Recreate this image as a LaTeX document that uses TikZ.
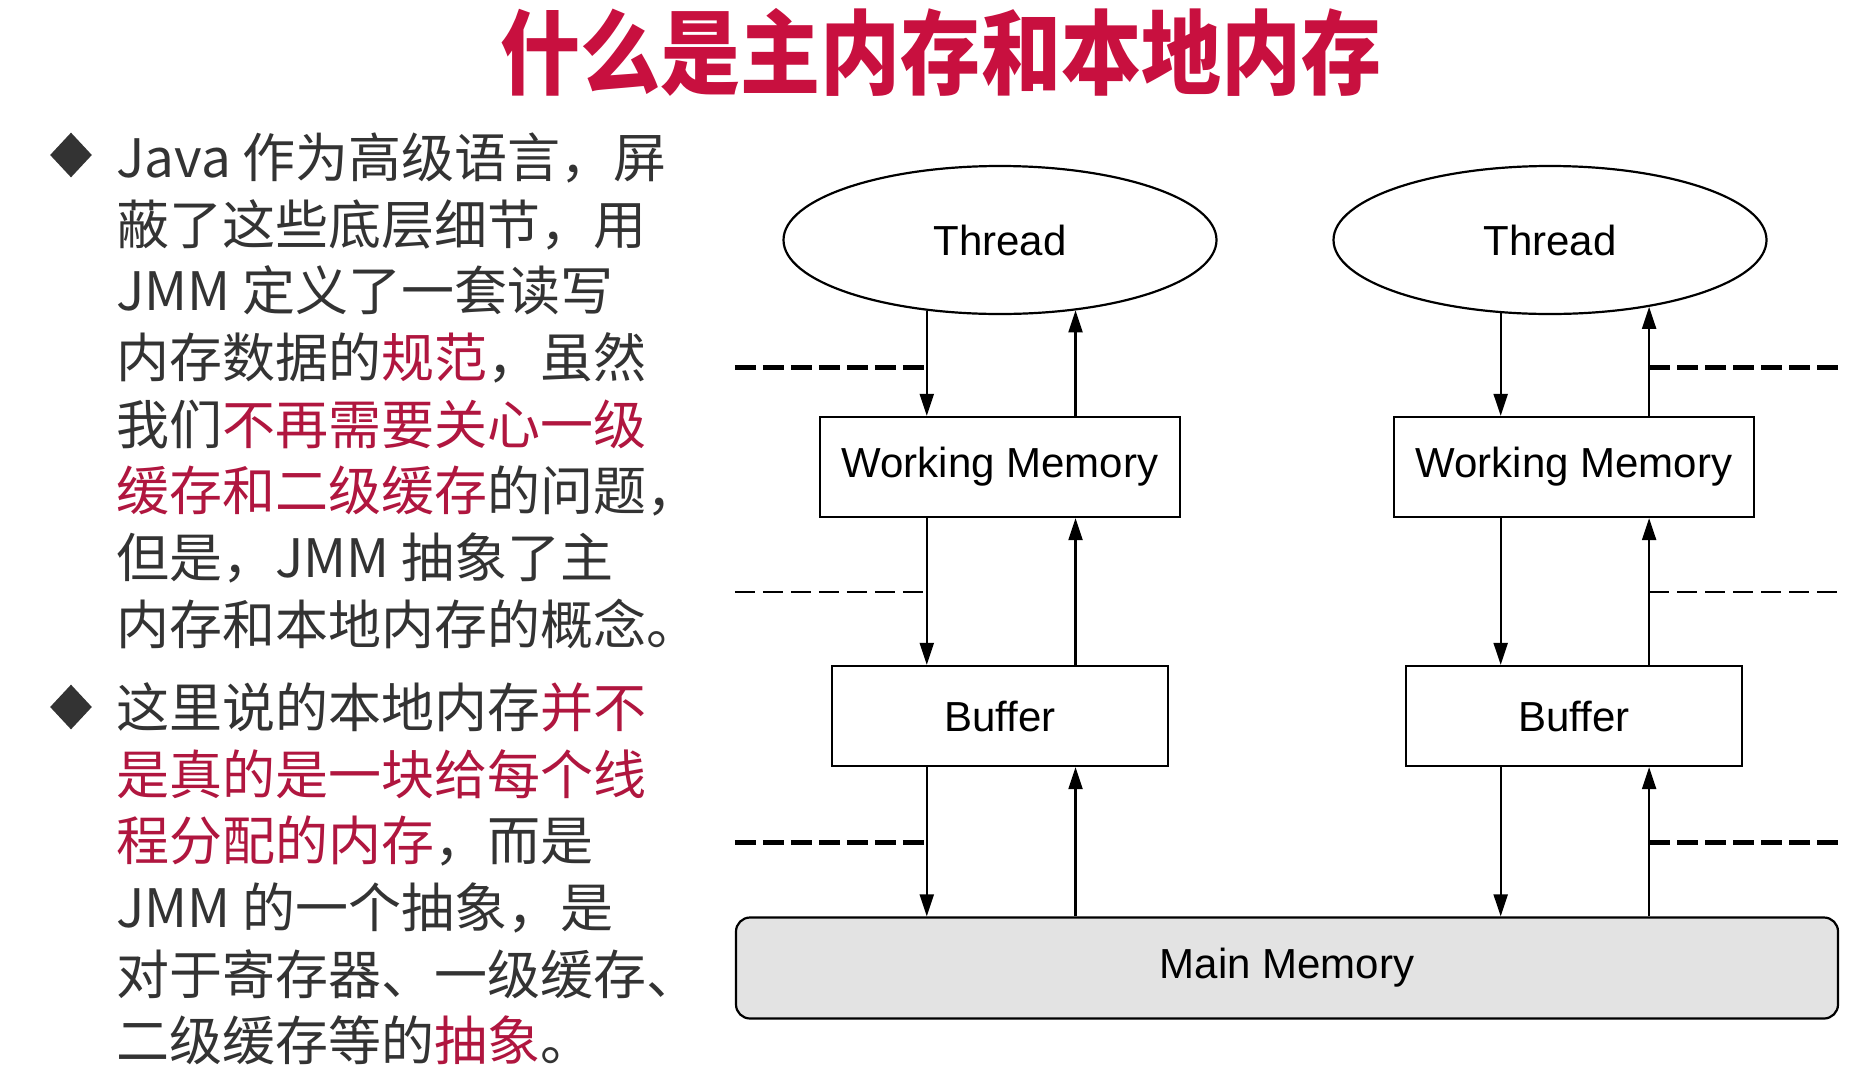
\documentclass[tikz,border=0pt]{standalone}
\usepackage{fontspec}
\usetikzlibrary{shapes.geometric,arrows.meta}
\newfontfamily\cjk{Noto Sans CJK SC}
\newfontfamily\dgm{Liberation Sans}
\definecolor{ink}{HTML}{333333}
\definecolor{rose}{HTML}{B0163F}
\definecolor{crimson}{HTML}{C8103F}
\definecolor{mem}{HTML}{E3E3E3}

\begin{document}
\begin{tikzpicture}[x=0.5pt, y=-0.5pt,
          ln/.style={anchor=base west, inner sep=0pt, text=ink, font=\cjk\fontsize{26.5}{33}\selectfont},
          dot/.style={diamond, fill=ink, inner sep=0pt, minimum width=21pt, minimum height=22.5pt},
          blk/.style={draw, line width=1.1pt, font=\dgm\fontsize{21}{25}\selectfont, inner sep=0pt, minimum height=50pt},
          thr/.style={blk, ellipse, minimum width=216.5pt, minimum height=74pt},
          ar/.style={line width=1.1pt, -{Triangle[length=11pt,width=7pt]}},
          thk/.style={line width=2.5pt, dash pattern=on 10.5pt off 3.5pt},
          thn/.style={line width=1.3pt, dash pattern=on 10pt off 4pt}]
        \path[use as bounding box, fill=white] (0,0) rectangle (1856,1066);
        \node[text=crimson, font=\cjk\bfseries\fontsize{46}{50}\selectfont] (ttl) at (941,52)
          {\scalebox{0.87}[1]{什么是主内存和本地内存}};
        \node[dot] (b1) at (71,155) {};
        \node[dot] (b2) at (71,707) {};
        \foreach \y/\t [count=\n] in {177/{Java 作为高级语言，屏}, 244/{蔽了这些底层细节，用},
            310/{JMM 定义了一套读写}, 377/{内存数据的\textcolor{rose}{规范}，虽然},
            444/{我们\textcolor{rose}{不再需要关心一级}}, 510/{\textcolor{rose}{缓存和二级缓存}的问题，},
            577/{但是，JMM 抽象了主}, 644/{内存和本地内存的概念。}}
          \node[ln] (p\n) at (116,\y) {\t};
        \foreach \y/\t [count=\n] in {727/{这里说的本地内存\textcolor{rose}{并不}},
            794/{\textcolor{rose}{是真的是一块给每个线}}, 860/{\textcolor{rose}{程分配的内存}，而是},
            927/{JMM 的一个抽象，是}, 994/{对于寄存器、一级缓存、},
            1060/{二级缓存等的\textcolor{rose}{抽象}。}}
          \node[ln] (q\n) at (116,\y) {\t};
        \node[thr] (th1) at (1000,240) {Thread};
        \node[thr] (th2) at (1550,240) {Thread};
        \node[blk, minimum width=180pt] (wm1) at (1000,467) {Working Memory};
        \node[blk, minimum width=180pt] (wm2) at (1574,467) {Working Memory};
        \node[blk, minimum width=168pt] (bf1) at (1000,716) {Buffer};
        \node[blk, minimum width=168pt] (bf2) at (1574,716) {Buffer};
        \node[blk, fill=mem, rounded corners=7pt, minimum width=551pt, minimum height=50.5pt] (mm) at (1287,968) {Main Memory};
        \foreach \k/\da/\ua in {1/224.6/-43.2, 2/236.4/-34.3}{
          \coordinate (dn\k) at (th\k.\da);
          \coordinate (up\k) at (th\k.\ua);
          \draw[ar] (dn\k) -- (dn\k |- wm\k.north);
          \draw[ar] (up\k |- wm\k.north) -- (up\k);
          \draw[ar] (dn\k |- wm\k.south) -- (dn\k |- bf\k.north);
          \draw[ar] (up\k |- bf\k.north) -- (up\k |- wm\k.south);
          \draw[ar] (dn\k |- bf\k.south) -- (dn\k |- mm.north);
          \draw[ar] (up\k |- mm.north) -- (up\k |- bf\k.south);}
        \foreach \y/\s in {367/thk, 592/thn, 842/thk}{
          \draw[\s] (mm.west |- 0,\y) -- (dn1 |- 0,\y);
          \draw[\s] (up2 |- 0,\y) -- (mm.east |- 0,\y);}
      \end{tikzpicture}
\end{document}
